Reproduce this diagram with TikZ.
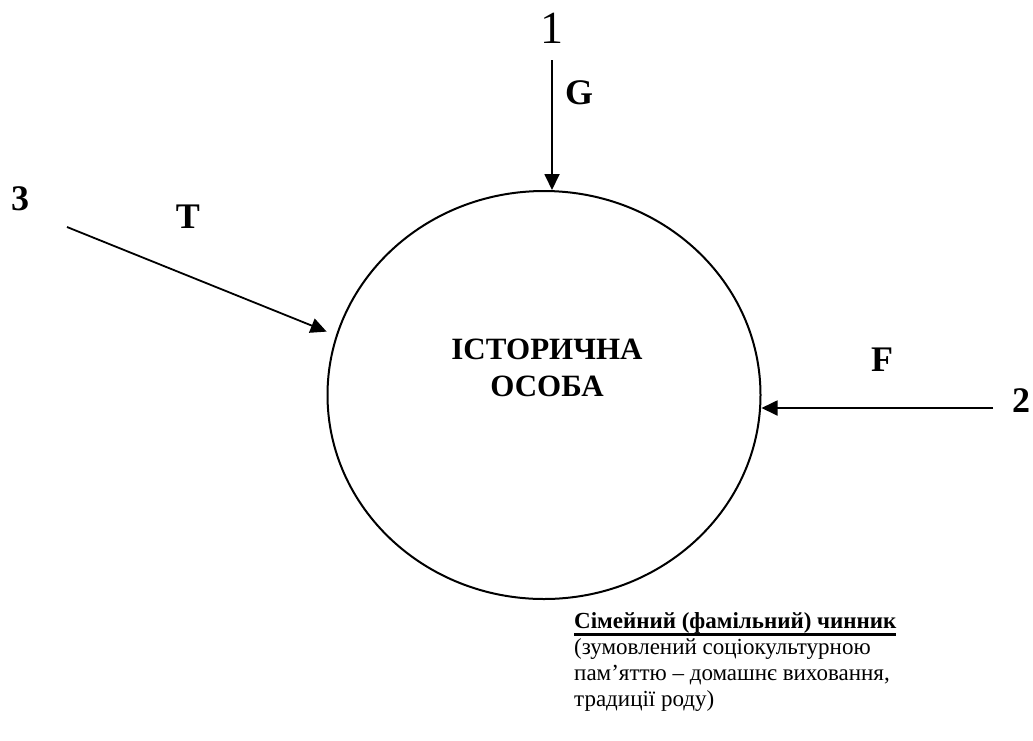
\documentclass[tikz,border=0pt]{standalone}
\usepackage{fontspec}
\setmainfont{Liberation Serif}
\usetikzlibrary{arrows.meta,positioning,shapes.geometric}
\newcommand{\thickul}[1]{\leavevmode\vtop{\hbox{#1}\kern0.4pt\hrule height2.2pt}}

\begin{document}
\begin{tikzpicture}[x=1pt, y=-1pt, >={Triangle[length=16pt,width=15pt]},
  force/.style={->, line width=1.8pt},
  lbl/.style={font=\fontsize{36}{36}\selectfont\bfseries, inner sep=0pt}]
  \useasboundingbox (0,0) rectangle (1033,740);
  % the person
  \node[draw, line width=2pt, ellipse, minimum width=433pt, minimum height=408pt,
    inner sep=0pt] (person) at (544,395) {};
  \node[font=\fontsize{31}{37}\selectfont\bfseries, align=center, inner sep=0pt]
    (name) at (547,368) {ІСТОРИЧНА\\ОСОБА};
  % factor numbers and letters
  \node[inner sep=0pt, font=\fontsize{46}{46}\selectfont] (n1) at (552,28) {1};
  \node[lbl] (n2) at (1021,401) {2};
  \node[lbl] (n3) at (20,199) {3};
  \foreach \name/\x/\y/\txt in {lblG/579/93/G, lblT/188/217/T, lblF/882/360/F}
     \node[lbl] (\name) at (\x,\y) {\txt};
  % forces acting on the person
  \coordinate (srcG) at (552,60);
  \coordinate (srcT) at (67,227);
  \coordinate (srcF) at (993,408);
  \draw[force] (srcG) -- (srcG |- person.north);
  \draw[force, shorten >=10pt] (srcT) -- (person.164);
  \draw[force] (srcF) -- (srcF -| person.east);
  % family factor note
  \node[anchor=north west, inner sep=0pt, align=left,
    font=\fontsize{23}{26}\selectfont] (note) at (574,612)
    {\thickul{\bfseries Сімейний (фамільний) чинник}\\(зумовлений соціокультурною\\
     пам’яттю – домашнє виховання,\\традиції роду)};
\end{tikzpicture}
\end{document}
